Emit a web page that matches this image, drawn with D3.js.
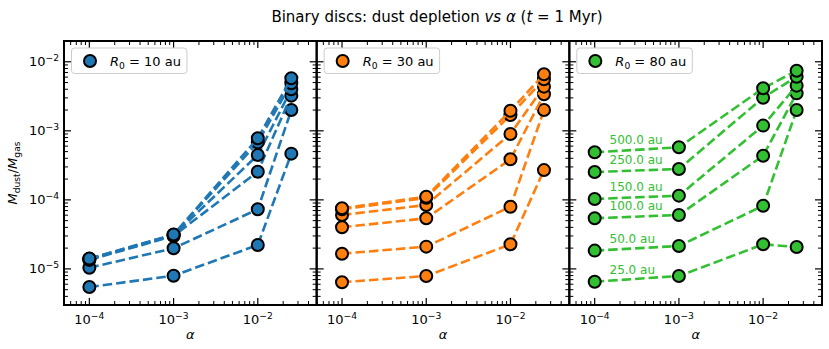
<!DOCTYPE html>
<html><head><meta charset="utf-8">
<script src="https://cdn.jsdelivr.net/npm/d3@7"></script>
<style>
body{margin:0;background:#fff;}
text{font-family:"DejaVu Sans",sans-serif;fill:#000;}
</style></head>
<body><svg id="c" width="829" height="349"></svg>
<script>
// ---- data ----
const alphas = [1e-4, 1e-3, 1e-2, 2.5e-2];
const separations = [25, 50, 100, 150, 250, 500];
const r0Values = [10, 30, 80];
const colors = ["#1f77b4", "#ff7f0e", "#32c032"];
// dust-to-gas ratio per separation (rows) at each alpha (columns)
const depR10 = [
  [5.47e-6, 7.96e-6, 2.22e-5, 4.67e-4],
  [1.04e-5, 1.99e-5, 7.3e-5, 2.0e-3],
  [1.35e-5, 3.0e-5, 2.56e-4, 3.23e-3],
  [1.38e-5, 3.07e-5, 4.47e-4, 3.99e-3],
  [1.40e-5, 3.12e-5, 6.8e-4, 4.88e-3],
  [1.41e-5, 3.15e-5, 7.8e-4, 5.77e-3]
];
const depR30 = [
  [6.4e-6, 7.89e-6, 2.27e-5, 2.70e-4],
  [1.66e-5, 2.10e-5, 7.96e-5, 2.0e-3],
  [4.01e-5, 5.41e-5, 3.87e-4, 3.38e-3],
  [6.04e-5, 8.43e-5, 9.0e-4, 4.36e-3],
  [7.3e-5, 1.07e-4, 1.69e-3, 5.58e-3],
  [7.55e-5, 1.11e-4, 1.95e-3, 6.59e-3]
];
const depR80 = [
  [6.53e-6, 7.89e-6, 2.27e-5, 2.08e-5],
  [1.84e-5, 2.15e-5, 8.22e-5, 2.0e-3],
  [5.41e-5, 6.04e-5, 4.36e-4, 3.49e-3],
  [1.03e-4, 1.15e-4, 1.19e-3, 4.51e-3],
  [2.53e-4, 2.80e-4, 3.02e-3, 6.08e-3],
  [4.89e-4, 5.77e-4, 4.13e-3, 7.43e-3]
];
const panelData = [depR10, depR30, depR80];
const xDomain = [5e-5, 5e-2];
const yDomain = [3e-6, 2e-2];
const xMajor = [1e-4, 1e-3, 1e-2];
const xMajorExp = ["−4", "−3", "−2"];
const yMajor = [1e-5, 1e-4, 1e-3, 1e-2];
const yMajorExp = ["−5", "−4", "−3", "−2"];
const sepLabelAlpha = 1.5e-4;

// ---- layout ----
const svg = d3.select("#c");
const L = 64, R = 822, T = 41, B = 305;
const pw = (R - L) / 3;
const y = d3.scaleLog().domain(yDomain).range([B, T]);

function minorTicks(dom) {
  const out = [];
  const lo = Math.floor(Math.log10(dom[0])), hi = Math.ceil(Math.log10(dom[1]));
  for (let e = lo; e <= hi; e++) for (let m = 2; m <= 9; m++) {
    const v = m * Math.pow(10, e);
    if (v >= dom[0] * 0.999 && v <= dom[1] * 1.001) out.push(v);
  }
  return out;
}
const xMinor = minorTicks(xDomain), yMinor = minorTicks(yDomain);

function supLabel(g, base, exp, x, yy, anchor) {
  const t = g.append("text").attr("x", x).attr("y", yy).attr("text-anchor", anchor)
    .style("font-size", "13px");
  t.append("tspan").text(base);
  t.append("tspan").attr("dy", -5.5).style("font-size", "9.2px").text(exp);
  return t;
}

// title
const title = svg.append("text").attr("x", 437).attr("y", 22).attr("text-anchor", "middle")
  .style("font-size", "15px");
title.append("tspan").text("Binary discs: dust depletion ");
title.append("tspan").style("font-style", "italic").text("vs α");
title.append("tspan").text(" (");
title.append("tspan").style("font-style", "italic").text("t");
title.append("tspan").text(" = 1 Myr)");

panelData.forEach((data, p) => {
  const x0 = L + p * pw;
  const x = d3.scaleLog().domain(xDomain).range([x0, x0 + pw]);
  const g = svg.append("g");
  const col = colors[p];

  // lines + markers
  const line = d3.line().x((d, i) => x(alphas[i])).y(d => y(d));
  data.forEach((row, s) => {
    g.append("path").attr("d", line(row)).attr("fill", "none")
      .attr("stroke", col).attr("stroke-width", 2.6).attr("stroke-dasharray", "9.5,4");
    g.selectAll(null).data(row).enter().append("circle")
      .attr("cx", (d, i) => x(alphas[i])).attr("cy", d => y(d)).attr("r", 6)
      .attr("fill", col).attr("stroke", "#000").attr("stroke-width", 2);
  });

  // separation labels on last panel
  if (p === 2) {
    data.forEach((row, s) => {
      g.append("text").attr("x", x(sepLabelAlpha)).attr("y", y(row[0]) - 8)
        .style("font-size", "12px").style("fill", col)
        .text(separations[s].toFixed(1) + " au");
    });
  }

  // ticks (inward, all sides)
  const tk = g.append("g").attr("stroke", "#000");
  xMajor.forEach(v => {
    tk.append("line").attr("x1", x(v)).attr("x2", x(v)).attr("y1", B).attr("y2", B - 7).attr("stroke-width", 1.2);
    tk.append("line").attr("x1", x(v)).attr("x2", x(v)).attr("y1", T).attr("y2", T + 7).attr("stroke-width", 1.2);
  });
  xMinor.forEach(v => {
    tk.append("line").attr("x1", x(v)).attr("x2", x(v)).attr("y1", B).attr("y2", B - 4).attr("stroke-width", 1);
    tk.append("line").attr("x1", x(v)).attr("x2", x(v)).attr("y1", T).attr("y2", T + 4).attr("stroke-width", 1);
  });
  yMajor.forEach(v => {
    tk.append("line").attr("x1", x0).attr("x2", x0 + 7).attr("y1", y(v)).attr("y2", y(v)).attr("stroke-width", 1.2);
    tk.append("line").attr("x1", x0 + pw).attr("x2", x0 + pw - 7).attr("y1", y(v)).attr("y2", y(v)).attr("stroke-width", 1.2);
  });
  yMinor.forEach(v => {
    tk.append("line").attr("x1", x0).attr("x2", x0 + 4).attr("y1", y(v)).attr("y2", y(v)).attr("stroke-width", 1);
    tk.append("line").attr("x1", x0 + pw).attr("x2", x0 + pw - 4).attr("y1", y(v)).attr("y2", y(v)).attr("stroke-width", 1);
  });

  // frame
  g.append("rect").attr("x", x0).attr("y", T).attr("width", pw).attr("height", B - T)
    .attr("fill", "none").attr("stroke", "#000").attr("stroke-width", 2);

  // x tick labels
  xMajor.forEach((v, i) => supLabel(g, "10", xMajorExp[i], x(v), B + 19, "middle"));
  // x label
  g.append("text").attr("x", x0 + pw / 2).attr("y", 339).attr("text-anchor", "middle")
    .style("font-size", "13px").style("font-style", "italic").text("α");

  // y tick labels on first panel
  if (p === 0) {
    yMajor.forEach((v, i) => supLabel(g, "10", yMajorExp[i], x0 - 5, y(v) + 4.5, "end"));
  }

  // legend
  const lg = g.append("g");
  const box = lg.append("rect").attr("x", x0 + 7.5).attr("y", 48).attr("height", 25.5)
    .attr("rx", 3).attr("fill", "#fff").attr("fill-opacity", 0.8)
    .attr("stroke", "#ccc").attr("stroke-width", 1);
  lg.append("circle").attr("cx", x0 + 26).attr("cy", 61).attr("r", 6)
    .attr("fill", col).attr("stroke", "#000").attr("stroke-width", 2);
  const lt = lg.append("text").attr("x", x0 + 46).attr("y", 65.5).style("font-size", "13px");
  lt.append("tspan").style("font-style", "italic").text("R");
  lt.append("tspan").attr("dy", 3).style("font-size", "9.2px").text("0");
  lt.append("tspan").attr("dy", -3).text(" = " + r0Values[p] + " au");
  const tw = lt.node().getBBox();
  box.attr("width", tw.x + tw.width + 6 - (x0 + 7.5));
});

// y label
const yl = svg.append("text").attr("transform", "translate(17," + ((T + B) / 2) + ") rotate(-90)")
  .attr("text-anchor", "middle").style("font-size", "13px");
yl.append("tspan").style("font-style", "italic").text("M");
yl.append("tspan").attr("dy", 3).style("font-size", "9.2px").text("dust");
yl.append("tspan").attr("dy", -3).text("/");
yl.append("tspan").style("font-style", "italic").text("M");
yl.append("tspan").attr("dy", 3).style("font-size", "9.2px").text("gas");
</script></body></html>
